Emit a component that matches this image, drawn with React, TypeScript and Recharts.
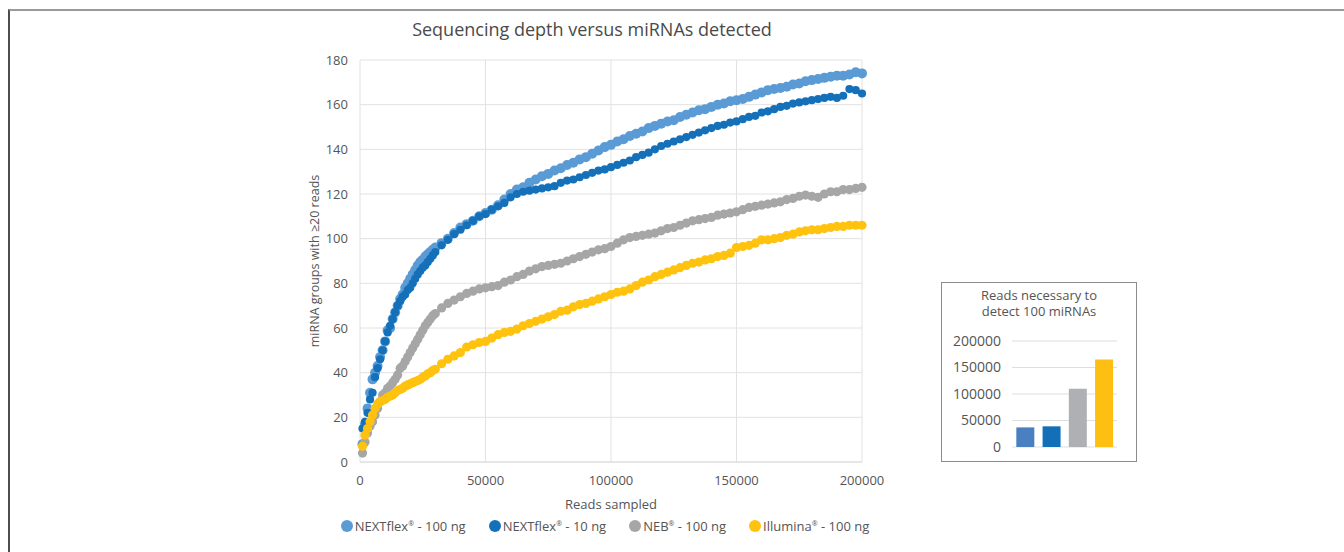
import React from "react";
import { ScatterChart, Scatter, XAxis, YAxis, CartesianGrid, BarChart, Bar, Cell } from "recharts";

// Reads sampled (x values shared by all four series)
const READS = [
  1000, 2000, 3000, 4000, 5000, 6000, 7000, 8000, 9000, 10000,
  11000, 12000, 13000, 14000, 15000, 16000, 17000, 18000, 19000, 20000,
  21000, 22000, 23000, 24000, 25000, 26000, 27000, 28000, 29000, 30000,
  32500, 35000, 37500, 40000, 42500, 45000, 47500, 50000, 52500, 55000,
  57500, 60000, 62500, 65000, 67500, 70000, 72500, 75000, 77500, 80000,
  82500, 85000, 87500, 90000, 92500, 95000, 97500, 100000, 102500, 105000,
  107500, 110000, 112500, 115000, 117500, 120000, 122500, 125000, 127500, 130000,
  132500, 135000, 137500, 140000, 142500, 145000, 147500, 150000, 152500, 155000,
  157500, 160000, 162500, 165000, 167500, 170000, 172500, 175000, 177500, 180000,
  182500, 185000, 187500, 190000, 192500, 195000, 197500, 200000,
];

const NEXTFLEX_100NG = [
  8, 17, 24, 31, 37, 40, 43, 47, 50, 54,
  59, 60, 64, 67, 70, 73, 75, 78, 80, 82,
  84, 86, 88, 89.5, 90.5, 92, 93, 94, 95, 96,
  98, 100, 102.5, 105, 106.5, 108, 110, 111.5, 113, 115,
  117.5, 120, 122, 123, 125, 126.5, 128, 129, 130.5, 131.5,
  133, 134, 135.5, 136.5, 138, 139.5, 141, 142, 143.5, 144.5,
  146, 147, 148, 149.5, 150.5, 151.5, 152.5, 153, 154.5, 155.5,
  156.5, 157.5, 158, 159, 160, 160.5, 161.5, 162, 162.5, 163.5,
  164.5, 165.5, 166.5, 167, 167.5, 168, 169, 169.5, 170.5, 171,
  171.5, 172, 172.5, 173, 173, 173.5, 174.5, 174,
];

const NEXTFLEX_10NG = [
  15, 18, 22, 28, 31, 38, 42, 46, 50, 54,
  58, 61, 64, 67, 70, 72, 74, 75, 77, 78,
  80, 82, 84, 85.5, 87, 88, 89.5, 91, 92.5, 94,
  97, 99.5, 102, 104, 106, 108, 110, 111, 113, 114.5,
  116, 118.5, 120, 121, 121.5, 122, 122.5, 123, 123.5, 125,
  126, 126.5, 127.5, 128.5, 129.5, 130.5, 131, 132, 133, 134,
  135, 136.5, 137.5, 138.5, 140, 141.5, 142.5, 143.5, 144.5, 145.5,
  146.5, 147.5, 148.5, 149.5, 150.5, 151, 152, 152.5, 153.5, 154.5,
  155, 156.5, 157, 158, 159, 159.5, 160.5, 161, 161.5, 162,
  162.5, 163, 163.5, 163, 164, 167, 166.5, 165,
];

const NEB_100NG = [
  4, 9, 13, 16, 18, 21, 24, 27, 30, 31,
  33, 34, 35.5, 37, 39, 42, 43, 45, 47, 49,
  51, 53, 55, 57, 59, 61, 62.5, 64, 65.5, 66.5,
  69, 71, 72.5, 74, 75.5, 76.5, 77.5, 78, 78.5, 79,
  80.5, 81.5, 83, 84, 85.5, 86.5, 87.5, 88, 88.5, 89,
  90, 91, 92, 93, 94, 95, 95.5, 96.5, 98, 99.5,
  100.5, 101, 101.5, 102, 102.5, 103.5, 104.5, 105, 106, 107,
  108, 108.5, 109, 109.5, 110.5, 111, 111.5, 112, 113, 114,
  114.5, 115, 115.5, 116, 116.5, 117.5, 118, 119, 119.5, 119,
  118.5, 120, 121, 121, 122, 122, 122.5, 123,
];

const ILLUMINA_100NG = [
  7, 12, 15, 18, 21, 24, 26, 27, 27.5, 28,
  29, 29.5, 30, 31, 32, 32.5, 33, 34, 34.5, 35,
  35.5, 36, 36.5, 37, 38, 38.5, 39.5, 40, 41, 41.5,
  44, 46, 47.5, 49, 51.5, 52.5, 53.5, 54, 55.5, 57,
  58, 58.5, 59.5, 61, 62, 63, 64, 65, 66, 67.5,
  68, 69.5, 70.5, 71, 72, 73, 74, 75, 76, 76.5,
  77.5, 79, 80.5, 81.5, 83, 84, 85, 86, 87, 88,
  89, 89.5, 90.5, 91, 92, 92.5, 93.5, 96, 96.5, 97,
  98, 99.5, 99.5, 100, 100.5, 101.5, 102, 103, 103.5, 104,
  104, 104.5, 105, 105.5, 105.5, 106, 106, 106,
];

const SERIES_NAMES = ["NEXTflex® - 100 ng", "NEXTflex® - 10 ng", "NEB® - 100 ng", "Illumina® - 100 ng"];
const SERIES_VALUES = [NEXTFLEX_100NG, NEXTFLEX_10NG, NEB_100NG, ILLUMINA_100NG];
const SERIES_COLORS = ["#5B9BD5", "#1470B9", "#A6A6A6", "#FFC20E"];
const SERIES_RADII = [5, 4.1, 4.6, 4.6];

const X_TICKS = [0, 50000, 100000, 150000, 200000];
const Y_TICKS = [0, 20, 40, 60, 80, 100, 120, 140, 160, 180];

const INSET_CATEGORIES = ["NEXTflex 100 ng", "NEXTflex 10 ng", "NEB 100 ng", "Illumina 100 ng"];
const INSET_VALUES = [37000, 39000, 110000, 165000];
const INSET_COLORS = ["#4A7FC1", "#1370B8", "#AFB0B3", "#FCBF12"];
const INSET_TICKS = [0, 50000, 100000, 150000, 200000];
const INSET_TITLE = ["Reads necessary to", "detect 100 miRNAs"];

const FONT = "'Open Sans', 'DejaVu Sans', sans-serif";
const TEXT = "#555555";

const seriesData = SERIES_VALUES.map((vals) => vals.map((v, i) => ({ x: READS[i], y: v })));
const insetData = INSET_CATEGORIES.map((c, i) => ({ name: c, value: INSET_VALUES[i] }));

function LegendName({ text }: { text: string }) {
  const parts = text.split("®");
  return (
    <span>
      {parts[0]}
      <span style={{ fontSize: 7, verticalAlign: "super", lineHeight: 0 }}>®</span>
      {parts[1]}
    </span>
  );
}

export default function App() {
  return (
    <div style={{ position: "absolute", left: 0, top: 0, width: 1344, height: 552, background: "#fff", fontFamily: FONT, overflow: "hidden" }}>
      {/* outer frame */}
      <div style={{ position: "absolute", left: 8, top: 9, width: 1340, height: 550, borderTop: "2px solid #9a9a9a", borderLeft: "2px solid #4d4d4d", boxSizing: "border-box" }} />

      {/* title */}
      <div style={{ position: "absolute", left: 292, top: 17, width: 600, textAlign: "center", fontSize: 18, color: "#4a4a4a", lineHeight: "24px" }}>
        Sequencing depth versus miRNAs detected
      </div>

      <div style={{ position: "absolute", left: 0, top: 0 }}>
        <ScatterChart width={1000} height={552} margin={{ top: 60, right: 138, bottom: 40, left: 300 }}>
          <CartesianGrid stroke="#e2e2e2" strokeWidth={1} />
          <XAxis
            type="number"
            dataKey="x"
            domain={[0, 200000]}
            ticks={X_TICKS}
            interval={0}
            height={50}
            axisLine={{ stroke: "#dadada" }}
            tickLine={false}
            tickSize={6}
            tickMargin={8}
            tick={{ fill: TEXT, fontSize: 13, fontFamily: FONT }}
            label={{ value: "Reads sampled", position: "insideBottom", offset: 3, fill: TEXT, fontSize: 13, fontFamily: FONT }}
          />
          <YAxis
            type="number"
            dataKey="y"
            domain={[0, 180]}
            ticks={Y_TICKS}
            interval={0}
            width={60}
            axisLine={false}
            tickLine={false}
            tickSize={6}
            tickMargin={6}
            tick={{ fill: TEXT, fontSize: 13, fontFamily: FONT }}
            label={{ value: "miRNA groups with ≥20 reads", angle: -90, position: "insideLeft", offset: 15, fill: TEXT, fontSize: 12.5, fontFamily: FONT, style: { textAnchor: "middle" } }}
          />
          {seriesData.map((d, si) => (
            <Scatter
              key={SERIES_NAMES[si]}
              name={SERIES_NAMES[si]}
              data={d}
              isAnimationActive={false}
              shape={(p: any) => <circle cx={p.cx} cy={p.cy} r={SERIES_RADII[si]} fill={SERIES_COLORS[si]} />}
            />
          ))}
        </ScatterChart>
      </div>

      {/* legend */}
      <div style={{ position: "absolute", left: 305, top: 517, width: 600, display: "flex", justifyContent: "center", gap: 23, fontSize: 13, color: TEXT, lineHeight: "18px" }}>
        {SERIES_NAMES.map((n, i) => (
          <div key={n} style={{ display: "flex", alignItems: "center" }}>
            <span style={{ display: "inline-block", width: 12, height: 12, borderRadius: 6, background: SERIES_COLORS[i], marginRight: 2 }} />
            <LegendName text={n} />
          </div>
        ))}
      </div>

      {/* inset */}
      <div style={{ position: "absolute", left: 941, top: 282, width: 196, height: 180, border: "1px solid #8c8c8c", boxSizing: "border-box" }}>
        {INSET_TITLE.map((t, i) => (
          <div key={t} style={{ position: "absolute", left: 0, top: 5 + i * 15.5, width: 194, textAlign: "center", fontSize: 13, color: TEXT, lineHeight: "14px", whiteSpace: "nowrap" }}>
            {t}
          </div>
        ))}
        <div style={{ position: "absolute", left: 0, top: 0 }}>
          <BarChart width={194} height={178} data={insetData} margin={{ top: 58, right: 19, bottom: 14, left: 0 }} barCategoryGap="16.5%">
            <CartesianGrid vertical={false} stroke="#dedede" />
            <XAxis dataKey="name" hide />
            <YAxis
              type="number"
              domain={[0, 200000]}
              ticks={INSET_TICKS}
              interval={0}
              width={70}
              axisLine={false}
              tickLine={false}
              tickSize={0}
              tickMargin={11}
              tick={{ fill: TEXT, fontSize: 14, fontFamily: FONT }}
            />
            <Bar dataKey="value" isAnimationActive={false}>
              {insetData.map((d, i) => (
                <Cell key={d.name} fill={INSET_COLORS[i]} />
              ))}
            </Bar>
          </BarChart>
        </div>
      </div>
    </div>
  );
}
